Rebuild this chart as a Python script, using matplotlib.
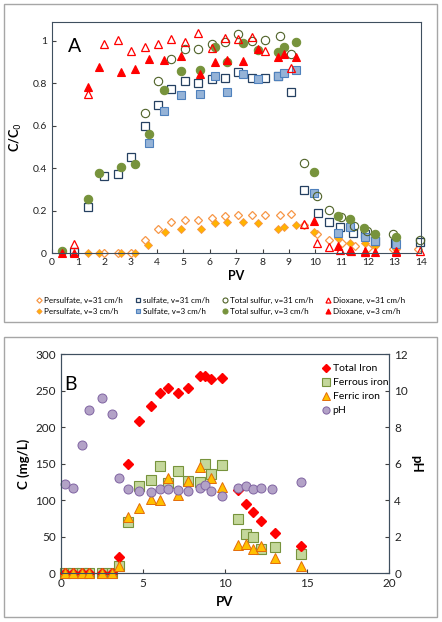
import numpy as np
import matplotlib
matplotlib.use("Agg")
import matplotlib.pyplot as plt
from matplotlib.patches import Rectangle

plt.rcParams['font.family'] = ['Lato', 'DejaVu Sans']

# ---- Panel A data (PV, C/C0) ----
pers31_x = [2.0, 2.51, 3.02, 3.53, 4.04, 4.54, 5.05, 5.56, 6.07, 6.57, 7.08, 7.59, 8.1, 8.67, 9.08, 9.58,
            10.06, 10.53, 11.0, 11.52, 12.0, 12.95, 13.9]
pers31_y = [0, 0, 0, 0.06, 0.115, 0.145, 0.155, 0.158, 0.166, 0.174, 0.178, 0.18, 0.181, 0.181, 0.184, 0.133,
            0.088, 0.062, 0.047, 0.034, 0.023, 0.018, 0.018]
pers3_x = [1.39, 1.8, 2.64, 3.15, 3.66, 4.28, 4.89, 5.65, 6.18, 6.66, 7.26, 7.81, 8.6, 8.82, 9.27, 9.95,
           10.88, 11.3, 11.87, 12.27, 13.05]
pers3_y = [0, 0, 0, 0, 0.04, 0.099, 0.114, 0.112, 0.141, 0.147, 0.148, 0.141, 0.112, 0.123, 0.133, 0.101,
           0.07, 0.047, 0.047, 0.035, 0.02]

sulf31_x = [0.86, 1.39, 2.0, 2.51, 3.02, 3.53, 4.04, 4.54, 5.05, 5.56, 6.07, 6.57, 7.08, 7.59, 8.1, 8.6, 9.08,
            9.56, 10.09, 10.51, 10.94, 11.45, 11.87, 12.27, 13.01, 13.96]
sulf31_y = [0.005, 0.216, 0.363, 0.371, 0.451, 0.6, 0.696, 0.771, 0.812, 0.802, 0.818, 0.823, 0.854, 0.823,
            0.823, 0.834, 0.757, 0.297, 0.188, 0.145, 0.122, 0.097, 0.089, 0.059, 0.05, 0.054]
sulf3_x = [3.68, 4.25, 4.91, 5.62, 6.18, 6.66, 7.26, 7.81, 8.6, 8.82, 9.27, 9.94, 10.88, 11.32, 11.87, 12.27,
           13.07]
sulf3_y = [0.52, 0.669, 0.744, 0.748, 0.834, 0.757, 0.842, 0.82, 0.834, 0.847, 0.862, 0.282, 0.097, 0.122,
           0.078, 0.059, 0.043]

tots31_x = [3.53, 4.04, 4.54, 5.05, 5.56, 6.07, 6.57, 7.08, 7.59, 8.1, 8.67, 9.08, 9.58, 10.06, 10.53, 10.97,
            11.47, 11.97, 12.95, 13.96]
tots31_y = [0.658, 0.81, 0.912, 0.961, 0.96, 0.984, 0.992, 1.03, 0.999, 1.003, 1.024, 0.937, 0.426, 0.269,
            0.205, 0.17, 0.128, 0.105, 0.09, 0.062]
tots3_x = [0.38, 1.39, 1.81, 2.64, 3.15, 3.68, 4.25, 4.91, 5.62, 6.18, 6.66, 7.26, 7.81, 8.6, 8.82, 9.27, 9.96,
           10.88, 11.32, 11.84, 12.27, 13.07]
tots3_y = [0.012, 0.254, 0.376, 0.407, 0.418, 0.561, 0.767, 0.857, 0.862, 0.972, 0.901, 0.988, 0.956, 0.945,
           0.972, 0.995, 0.384, 0.175, 0.159, 0.12, 0.09, 0.078]

diox31_x = [0.86, 1.39, 2.0, 2.51, 3.02, 3.53, 4.04, 4.54, 5.05, 5.56, 6.07, 6.57, 7.08, 7.59, 8.1, 9.08,
            9.56, 10.08, 10.52, 10.94, 11.36, 11.87, 13.05, 13.96]
diox31_y = [0.042, 0.749, 0.986, 1.002, 0.951, 0.972, 0.984, 1.008, 0.992, 1.035, 0.964, 1.011, 1.007, 1.016,
            0.953, 0.87, 0.137, 0.048, 0.028, 0.015, 0.012, 0.007, 0.01, 0.01]
diox3_x = [0.38, 0.84, 1.39, 1.8, 2.64, 3.15, 3.68, 4.25, 4.91, 5.62, 6.18, 6.66, 7.26, 7.81, 8.6, 8.82, 9.27,
           9.94, 10.88, 11.3, 11.87, 12.27, 13.05]
diox3_y = [0, 0, 0.78, 0.878, 0.854, 0.865, 0.912, 0.908, 0.928, 0.843, 0.898, 0.909, 0.904, 0.96, 0.925,
           0.936, 0.925, 0.153, 0.034, 0.015, 0.01, 0.007, 0.007]

# ---- Panel B data ----
fe_x = [0.26, 0.77, 1.28, 1.74, 2.5, 3.1, 3.55, 4.12, 4.79, 5.48, 6.04, 6.55, 7.16, 7.73, 8.48, 8.78, 9.15,
        9.8, 10.77, 11.28, 11.72, 12.19, 13.04, 14.61]
total_iron = [0, 0, 0, 0, 0, 0, 21.4, 149, 208.5, 229, 247.3, 253.3, 247.3, 253.3, 270.2, 270.2, 266, 267,
              113.8, 94.6, 84, 71.7, 55.2, 36.9]
ferrous = [0, 0, 0, 0, 0, 0, 9.9, 70.3, 119.3, 127, 146.7, 123, 140.3, 126.5, 124.3, 149, 135.3, 148,
           73.5, 53.4, 49.7, 32.4, 35.1, 25.5]
ferric_x = [0.26, 0.77, 1.28, 1.74, 2.5, 3.1, 3.55, 4.12, 4.79, 5.48, 6.04, 6.55, 7.16, 7.73, 8.48, 9.15,
            9.8, 10.77, 11.28, 11.72, 12.19, 13.04, 14.61]
ferric = [0, 0, 0, 0, 0, 0, 10, 77, 88.6, 101, 100, 129.8, 107, 126.5, 145, 131, 117.5, 38.3, 39.7, 32.8,
          36.9, 20, 9.5]
ph_x = [0.26, 0.77, 1.28, 1.74, 2.5, 3.1, 3.55, 4.12, 4.79, 5.48, 6.04, 6.55, 7.16, 7.73, 8.48, 8.78, 9.15,
        9.8, 10.77, 11.28, 11.72, 12.19, 12.84, 14.61]
ph = [4.86, 4.64, 7.0, 8.94, 9.58, 8.72, 5.23, 4.59, 4.51, 4.46, 4.59, 4.59, 4.55, 4.51, 4.64, 4.83, 4.5,
      4.22, 4.64, 4.77, 4.61, 4.64, 4.59, 4.97]

fig = plt.figure(figsize=(4.42, 6.22), dpi=100)

# grey boxes round each panel
fig.patches.append(Rectangle((4 / 442, 1 - 322 / 622), 433 / 442, 318 / 622, transform=fig.transFigure,
                             fill=False, edgecolor='#a6a6a6', lw=1))
fig.patches.append(Rectangle((4 / 442, 1 - 617 / 622), 433 / 442, 280 / 622, transform=fig.transFigure,
                             fill=False, edgecolor='#a6a6a6', lw=1))

spine_col = '#3f4f5f'

# ---------------- Panel A ----------------
ax1 = fig.add_axes([51.7 / 442, 1 - 253.2 / 622, 369 / 442, 231 / 622])
ms = 5.5
h = []
h += ax1.plot(pers31_x, pers31_y, 'D', ms=ms - 1, mfc='white', mec='#f79646', mew=0.9,
              label='Persulfate, v=31 cm/h', clip_on=False)
h += ax1.plot(pers3_x, pers3_y, 'D', ms=ms - 1, mfc='#ffb300', mec='#f79646', mew=0.6,
              label='Persulfate, v=3 cm/h', clip_on=False)
h += ax1.plot(sulf31_x, sulf31_y, 's', ms=ms, mfc='white', mec='#254061', mew=0.9,
              label='sulfate, v=31 cm/h', clip_on=False)
h += ax1.plot(sulf3_x, sulf3_y, 's', ms=ms, mfc='#95b3d7', mec='#4f81bd', mew=0.8,
              label='Sulfate, v=3 cm/h', clip_on=False)
h += ax1.plot(tots31_x, tots31_y, 'o', ms=ms + 0.5, mfc='none', mec='#4f6228', mew=0.8,
              label='Total sulfur, v=31 cm/h', clip_on=False)
h += ax1.plot(tots3_x, tots3_y, 'o', ms=ms + 0.5, mfc='#77933c', mec='#77933c', mew=0.8,
              label='Total sulfur, v=3 cm/h', clip_on=False)
h += ax1.plot(diox31_x, diox31_y, '^', ms=ms + 0.5, mfc='none', mec='#ff0000', mew=0.9,
              label='Dioxane, v=31 cm/h', clip_on=False)
h += ax1.plot(diox3_x, diox3_y, '^', ms=ms + 0.5, mfc='#ff0000', mec='#ff0000', mew=0.8,
              label='Dioxane, v=3 cm/h', clip_on=False)

ax1.set_xlim(0, 14)
ax1.set_ylim(0, 1.087)
ax1.set_xticks(range(0, 15))
ax1.set_yticks([0, 0.2, 0.4, 0.6, 0.8, 1.0])
ax1.set_yticklabels(['0', '0.2', '0.4', '0.6', '0.8', '1'])
ax1.tick_params(direction='in', length=3, labelsize=7.5, colors='#404040', labelcolor='#222222')
for s in ax1.spines.values():
    s.set_color(spine_col)
ax1.set_xlabel('PV', fontsize=9, fontweight='bold', labelpad=2)
ax1.set_ylabel('C/C$_0$', fontsize=9, fontweight='bold', labelpad=6)
ax1.text(0.045, 0.93, 'A', transform=ax1.transAxes, fontsize=14, va='top')

fig.legend(handles=h, loc='center', bbox_to_anchor=(221 / 442, 1 - 306 / 622), ncol=4, fontsize=5.8,
           frameon=False, handlelength=0.6, handletextpad=0.3, columnspacing=1.6, markerscale=0.6,
           labelspacing=0.5, borderaxespad=0)

# ---------------- Panel B ----------------
ax2 = fig.add_axes([60.7 / 442, 1 - 573 / 622, 328.6 / 442, 218.7 / 622])
ax2r = ax2.twinx()
ms2 = 6.5
hb = []
hb += ax2.plot(fe_x, total_iron, 'D', ms=ms2 - 1.5, mfc='#ff0000', mec='#ff0000', label='Total Iron',
               clip_on=False, zorder=3)
hb += ax2.plot(fe_x, ferrous, 's', ms=ms2, mfc='#c4d79b', mec='#77933c', mew=0.8, label='Ferrous iron',
               clip_on=False, zorder=2)
hb += ax2.plot(ferric_x, ferric, '^', ms=ms2 + 0.5, mfc='#ffc000', mec='#e46c0a', mew=0.7, label='Ferric iron',
               clip_on=False, zorder=4)
hb += ax2r.plot(ph_x, ph, 'o', ms=ms2, mfc='#b3a2c7', mec='#8064a2', mew=0.7, label='pH', clip_on=False)

ax2.set_xlim(0, 20)
ax2.set_ylim(0, 300)
ax2r.set_ylim(0, 12)
ax2.set_xticks([0, 5, 10, 15, 20])
ax2.set_yticks(range(0, 301, 50))
ax2r.set_yticks(range(0, 13, 2))
for a in (ax2, ax2r):
    a.tick_params(direction='in', length=3, labelsize=8.5, colors='#404040', labelcolor='#222222')
    for s in a.spines.values():
        s.set_color(spine_col)
ax2.set_xlabel('PV', fontsize=9.5, fontweight='bold', labelpad=5)
ax2.set_ylabel('C (mg/L)', fontsize=9.5, fontweight='bold', labelpad=4)
ax2r.set_ylabel('pH', fontsize=9.5, fontweight='bold', rotation=270, labelpad=10)
ax2.text(0.01, 0.9, 'B', transform=ax2.transAxes, fontsize=14, va='top')

ax2r.legend(handles=hb, loc='upper left', bbox_to_anchor=(318 / 442, 1 - 360 / 622),
            bbox_transform=fig.transFigure, fontsize=7.5, frameon=False, handlelength=0.7,
            handletextpad=0.3, labelspacing=0.45, borderaxespad=0, markerscale=0.8)

fig.savefig('out.png', dpi=100)
